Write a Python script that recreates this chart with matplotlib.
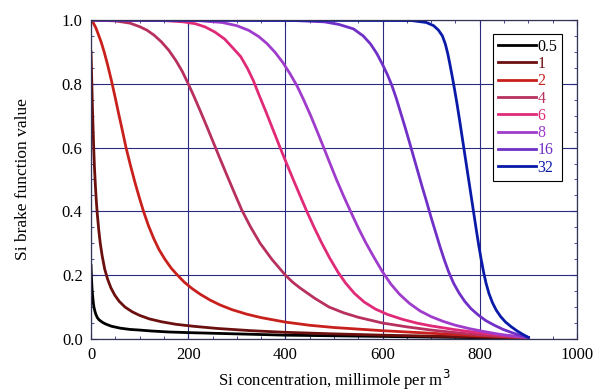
import numpy as np
import matplotlib
matplotlib.use("Agg")
import matplotlib.pyplot as plt
from matplotlib.ticker import MultipleLocator

labels = ["0.5", "1", "2", "4", "6", "8", "16", "32"]
colors = ["#000000", "#6b0f0f", "#c8201c", "#b83060", "#e02a78", "#a03ccc", "#7030c8", "#0a1aa8"]

# values
x_05 = [0, 1, 2, 3, 4, 5, 6, 8, 10, 13, 16, 20, 25, 30, 42, 60, 80, 100, 125, 160, 200, 300, 400,
        500, 600, 700, 800, 900]
y_05 = [0.23, 0.19, 0.16, 0.14, 0.125, 0.11, 0.10, 0.087, 0.077, 0.067, 0.061, 0.056, 0.051, 0.047,
        0.040, 0.034, 0.030, 0.028, 0.025, 0.022, 0.020, 0.016, 0.012, 0.010, 0.008, 0.006, 0.004,
        0.003]

x_1 = [0, 1, 2, 3, 4, 5.5, 7, 9, 11, 13, 16, 19, 23, 28, 34, 41, 49, 58, 70, 85, 100, 120, 145, 175,
       210, 260, 330, 400, 500, 600, 700, 800, 900]
y_1 = [0.90, 0.84, 0.78, 0.72, 0.67, 0.60, 0.54, 0.48, 0.43, 0.39, 0.34, 0.30, 0.26, 0.22, 0.188,
       0.16, 0.137, 0.118, 0.10, 0.085, 0.074, 0.063, 0.054, 0.046, 0.04, 0.033, 0.026, 0.021,
       0.016, 0.012, 0.009, 0.006, 0.003]

x_2 = [0, 5, 10, 15, 21, 27, 34, 42, 50, 57, 65, 72, 81, 90, 99, 108, 118, 129, 140, 152, 165, 178,
       192, 208, 225, 245, 265, 290, 320, 350, 400, 450, 500, 550, 600, 700, 800, 900]
y_2 = [1.0, 0.99, 0.975, 0.955, 0.93, 0.9, 0.86, 0.81, 0.755, 0.705, 0.65, 0.6, 0.545, 0.493,
       0.445, 0.4, 0.356, 0.315, 0.28, 0.25, 0.222, 0.2, 0.178, 0.158, 0.14, 0.122, 0.107, 0.092,
       0.078, 0.067, 0.053, 0.043, 0.036, 0.031, 0.026, 0.018, 0.01, 0.004]

x_4 = [0, 50, 80, 100, 115, 130, 145, 160, 175, 188, 200, 212, 225, 238, 252, 266, 280, 295, 310,
       328, 348, 372, 400, 415, 430, 460, 490, 520, 550, 600, 650, 700, 750, 800, 850, 900]
y_4 = [1.0, 0.997, 0.99, 0.979, 0.968, 0.952, 0.931, 0.905, 0.872, 0.838, 0.8, 0.76, 0.714, 0.667,
       0.615, 0.563, 0.512, 0.458, 0.405, 0.352, 0.3, 0.25, 0.2, 0.178, 0.16, 0.128, 0.1, 0.082,
       0.068, 0.05, 0.038, 0.028, 0.02, 0.013, 0.008, 0.004]

x_6 = [0, 150, 190, 215, 235, 255, 275, 292, 308, 322, 334, 347, 360, 374, 389, 403, 416, 430, 444,
       459, 475, 491, 508, 524, 542, 562, 585, 610, 640, 670, 700, 750, 800, 850, 900]
y_6 = [1.0, 0.998, 0.994, 0.988, 0.978, 0.962, 0.94, 0.912, 0.885, 0.848, 0.81, 0.76, 0.712, 0.658,
       0.6, 0.548, 0.5, 0.45, 0.4, 0.35, 0.3, 0.254, 0.21, 0.175, 0.143, 0.116, 0.094, 0.077, 0.062,
       0.05, 0.041, 0.029, 0.019, 0.011, 0.005]

x_8 = [0, 220, 270, 300, 325, 345, 362, 379, 395, 410, 424, 438, 452, 465, 478, 491, 505, 520, 535,
       550, 566, 583, 600, 617, 635, 655, 677, 700, 725, 750, 780, 810, 840, 870, 900]
y_8 = [1.0, 0.998, 0.992, 0.982, 0.967, 0.948, 0.926, 0.898, 0.866, 0.83, 0.793, 0.748, 0.7, 0.652,
       0.603, 0.553, 0.5, 0.447, 0.397, 0.348, 0.3, 0.254, 0.21, 0.172, 0.14, 0.112, 0.088, 0.07,
       0.055, 0.043, 0.032, 0.023, 0.015, 0.009, 0.005]

x_16 = [0, 420, 480, 510, 540, 560, 575, 588, 600, 610, 619, 628, 637, 646, 655, 664, 673, 682, 691,
        700, 709, 718, 727, 736, 746, 757, 769, 782, 797, 812, 830, 848, 866, 884, 900]
y_16 = [1.0, 0.998, 0.994, 0.986, 0.972, 0.95, 0.925, 0.895, 0.86, 0.828, 0.795, 0.755, 0.71,
        0.665, 0.618, 0.57, 0.522, 0.474, 0.428, 0.38, 0.335, 0.29, 0.248, 0.21, 0.175, 0.145,
        0.118, 0.095, 0.075, 0.058, 0.043, 0.03, 0.02, 0.011, 0.005]

x_32 = [0, 660, 690, 705, 715, 723, 729, 734, 738, 743, 748, 753, 758, 763, 768, 773, 778, 783, 788,
        793, 798, 803, 808, 813, 819, 826, 834, 843, 853, 865, 877, 889, 900]
y_32 = [1.0, 0.998, 0.992, 0.982, 0.968, 0.95, 0.925, 0.895, 0.865, 0.825, 0.783, 0.738, 0.69,
        0.64, 0.59, 0.54, 0.49, 0.44, 0.39, 0.34, 0.292, 0.248, 0.208, 0.174, 0.142, 0.114, 0.09,
        0.07, 0.053, 0.038, 0.025, 0.014, 0.005]

xs = [x_05, x_1, x_2, x_4, x_6, x_8, x_16, x_32]
ys = [y_05, y_1, y_2, y_4, y_6, y_8, y_16, y_32]


def main():
    plt.rcParams["font.family"] = ["Liberation Serif", "DejaVu Serif"]
    plt.rcParams["font.size"] = 12

    fig = plt.figure(figsize=(5.93, 3.91), dpi=100)
    ax = fig.add_axes([0.1535, 0.133, 0.8195, 0.816])

    grid_col = "#2a2a80"
    ax.grid(True, color=grid_col, linewidth=0.8)
    ax.set_axisbelow(True)

    for x, y, lab, c in zip(xs, ys, labels, colors):
        ax.plot(x, y, color=c, linewidth=2.0, label=lab, solid_joinstyle="round")

    ax.set_xlim(0, 1000)
    ax.set_ylim(0, 1.0)
    ax.xaxis.set_major_locator(MultipleLocator(200))
    ax.xaxis.set_minor_locator(MultipleLocator(50))
    ax.yaxis.set_major_locator(MultipleLocator(0.2))
    ax.yaxis.set_minor_locator(MultipleLocator(0.05))
    ax.yaxis.set_major_formatter(plt.FormatStrFormatter("%.1f"))
    ax.tick_params(which="both", direction="in", top=True, right=True, color=grid_col)
    ax.tick_params(which="major", length=4, labelsize=12, pad=6)
    ax.tick_params(which="minor", length=2.5)
    for s in ax.spines.values():
        s.set_color("#333355")
        s.set_linewidth(0.9)

    ax.set_xlabel("Si concentration, millimole per m$^3$", fontsize=12, labelpad=3)
    ax.set_ylabel("Si brake function value", fontsize=12.5, labelpad=22)

    leg = ax.legend(loc="upper right", bbox_to_anchor=(0.969, 0.956), fancybox=False,
                    edgecolor="black", framealpha=1, fontsize=11.5, handlelength=2.4,
                    handletextpad=0.05, labelspacing=0.08, borderpad=0.3,
                    borderaxespad=0)
    leg.get_frame().set_linewidth(0.8)
    for t, c in zip(leg.get_texts(), colors):
        t.set_color(c)

    fig.savefig("out.png", dpi=100)


if __name__ == "__main__":
    main()
